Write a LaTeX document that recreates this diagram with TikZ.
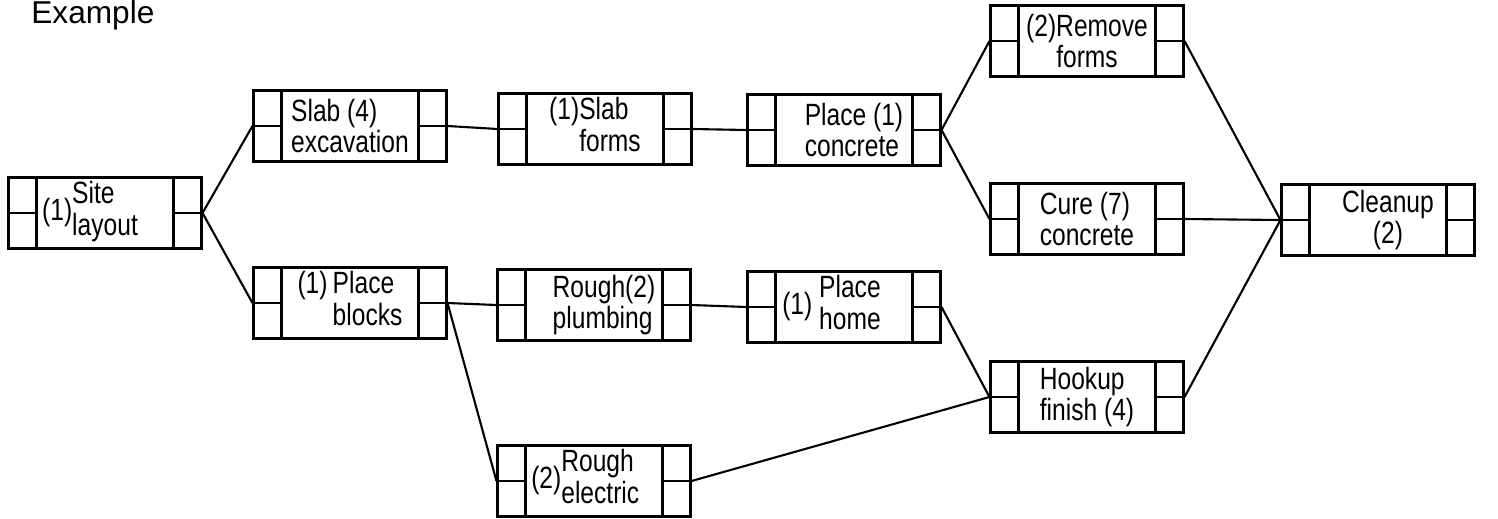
\documentclass[tikz,border=0pt]{standalone}
\usepackage{fontspec}
\setmainfont{Liberation Sans}
\newfontfamily\actfont[FakeStretch=0.8]{Liberation Sans}
\usetikzlibrary{calc}

\begin{document}
\begin{tikzpicture}[
  x=0.02cm,y=-0.02cm,
  act/.style={draw, line width=1.2pt, minimum width=3.86cm, minimum height=1.42cm, inner sep=0pt, align=left, font=\actfont\fontsize{17.5}{17.5}\selectfont},
  link/.style={line width=1.2pt},
  cell/.style={line width=1.2pt}
]
\useasboundingbox (0,0) rectangle (1498,518);
\node[anchor=base west, inner sep=0pt, font=\fontsize{18}{20}\selectfont] (title) at (31,23) {Example};
% activities
\node[act] (site) at (105,213) {(1)\begin{tabular}{@{}l@{}}Site\\layout\end{tabular}\hspace*{0.6cm}};
\node[act] (slabexc) at (350,126) {Slab (4)\\excavation};
\node[act] (blocks) at (350,303) {\begin{tabular}{@{}l@{\,}l@{}}(1)&Place\\&blocks\end{tabular}};
\node[act] (forms) at (595,129) {\begin{tabular}{@{}l@{}l@{}}(1)&Slab\\&forms\end{tabular}};
\node[act] (concrete) at (844,130) {\hspace*{0.4cm}Place (1)\\\hspace*{0.4cm}concrete};
\node[act] (plumbing) at (594,305) {\hspace*{0.4cm}Rough(2)\\\hspace*{0.4cm}plumbing};
\node[act] (home) at (844,307) {(1) \begin{tabular}{@{}c@{}}Place\\home\end{tabular}\hspace*{0.5cm}};
\node[act] (electric) at (594,481) {(2)\begin{tabular}{@{}l@{}}Rough\\electric\end{tabular}\hspace*{0.35cm}};
\node[act, align=center] (remove) at (1087,41) {(2)Remove\\forms};
\node[act] (cure) at (1087,219) {Cure (7)\\concrete};
\node[act] (hookup) at (1087,397) {Hookup\\finish (4)};
\node[act, align=center] (cleanup) at (1378,220) {\hspace*{0.4cm}Cleanup\\\hspace*{0.4cm}(2)};
% early/late cells
\foreach \n in {site,slabexc,blocks,forms,concrete,plumbing,home,electric,remove,cure,hookup,cleanup}{
  \draw[cell] ($(\n.north west)+(29,0)$) -- ($(\n.south west)+(29,0)$);
  \draw[cell] (\n.west) -- ($(\n.west)+(29,0)$);
  \draw[cell] ($(\n.north east)+(-29,0)$) -- ($(\n.south east)+(-29,0)$);
  \draw[cell] (\n.east) -- ($(\n.east)+(-29,0)$);
}
% precedences
\draw[link] (site.east) -- (slabexc.west);
\draw[link] (site.east) -- (blocks.west);
\draw[link] (slabexc.east) -- (forms.west);
\draw[link] (forms.east) -- (concrete.west);
\draw[link] (concrete.east) -- (remove.west);
\draw[link] (concrete.east) -- (cure.west);
\draw[link] (blocks.east) -- (plumbing.west);
\draw[link] (blocks.east) -- (electric.west);
\draw[link] (plumbing.east) -- (home.west);
\draw[link] (home.east) -- (hookup.west);
\draw[link] (electric.east) -- (hookup.west);
\draw[link] (remove.east) -- (cleanup.west);
\draw[link] (cure.east) -- (cleanup.west);
\draw[link] (hookup.east) -- (cleanup.west);
\end{tikzpicture}
\end{document}
